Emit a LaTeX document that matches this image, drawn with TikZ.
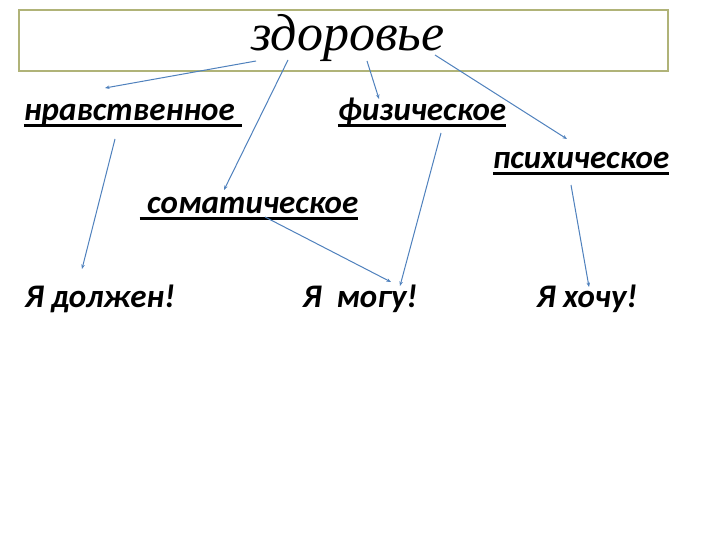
\documentclass[tikz,border=0pt]{standalone}
\usepackage{fontspec}
\setmainfont{Carlito}
\newfontfamily\lblfont{Carlito Bold Italic}
\newfontfamily\titlefont{Liberation Serif Italic}
\usetikzlibrary{arrows.meta}
\definecolor{framecol}{RGB}{176,179,120}
\definecolor{arrcol}{RGB}{79,129,189}
\tikzset{
  lbl/.style={font=\fontsize{33}{36}\selectfont\lblfont, inner sep=0pt, anchor=base},
  arr/.style={draw=arrcol, line width=1pt, -{Stealth[length=4.5pt,width=3.5pt]}}
}
\newcommand{\ulx}[1]{\setbox0\hbox{#1}\rlap{\rule[-6pt]{\wd0}{2.6pt}}\box0}
\begin{document}
\begin{tikzpicture}[x={(1pt,0)}, y={(0,-1pt)}]
\useasboundingbox (0,0) rectangle (720,540);
\fill[white] (0,0) rectangle (720,540);
\draw[framecol, line width=2.5pt] (19,10) rectangle (668,71);
\node[inner sep=0pt, anchor=base, font=\fontsize{52}{56}\selectfont\titlefont] (title) at (348,51) {здоровье};
\node[lbl] (nrav) at (133,121) {\ulx{нравственное\ }};
\node[lbl] (fiz) at (422,121) {\ulx{физическое}};
\node[lbl] (psi) at (581,169) {\ulx{психическое}};
\node[lbl] (som) at (249,214) {\ulx{\ соматическое}};
\node[lbl] (dol) at (100,307) {Я должен!};
\node[lbl] (mog) at (360,307) {Я\ \ могу!};
\node[lbl] (hoc) at (587,307) {Я хочу!};
% connector end points
\coordinate (t1) at (256,61);
\coordinate (t2) at (288,60);
\coordinate (t3) at (367,61);
\coordinate (t4) at (435,55);
\coordinate (n1) at (105,88);
\coordinate (s1) at (224,190);
\coordinate (f1) at (379,99);
\coordinate (p1) at (567,139);
\coordinate (n2) at (115,139);
\coordinate (d1) at (82,269);
\coordinate (f2) at (441,133);
\coordinate (m1) at (400,286);
\coordinate (s2) at (265,217);
\coordinate (m2) at (391,282);
\coordinate (p2) at (571,185);
\coordinate (h1) at (589,287);
\draw[arr] (t1) -- (n1);
\draw[arr] (t2) -- (s1);
\draw[arr] (t3) -- (f1);
\draw[arr] (t4) -- (p1);
\draw[arr] (n2) -- (d1);
\draw[arr] (f2) -- (m1);
\draw[arr] (s2) -- (m2);
\draw[arr] (p2) -- (h1);
\end{tikzpicture}
\end{document}
